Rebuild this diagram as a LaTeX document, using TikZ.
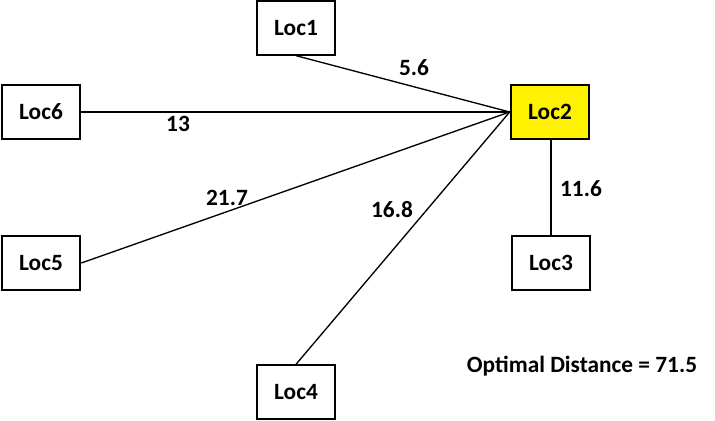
\documentclass[tikz,border=0pt]{standalone}
\usepackage{fontspec}
\setmainfont{Carlito}
\begin{document}
\begin{tikzpicture}[x=0.75pt,y=-0.75pt,
    locbox/.style={draw,line width=1.5pt,minimum width=59pt,minimum height=40pt,
      inner sep=0pt,font=\fontsize{17.5}{20}\selectfont\bfseries},
    dist/.style={font=\fontsize{17.5}{20}\selectfont\bfseries},
    link/.style={line width=1pt}]
  \useasboundingbox (0,0) rectangle (715,421);
  % locations
  \node[locbox] (loc1) at (296,28) {Loc1};
  \node[locbox,fill=yellow] (loc2) at (550,112) {Loc2};
  \node[locbox] (loc3) at (551,263) {Loc3};
  \node[locbox] (loc4) at (296,392) {Loc4};
  \node[locbox] (loc5) at (41,263) {Loc5};
  \node[locbox] (loc6) at (41,112) {Loc6};
  % links to Loc2
  \draw[link] (loc1.south) -- (loc2.west);
  \draw[link] (loc6.east) -- (loc2.west);
  \draw[link] (loc5.east) -- (loc2.west);
  \draw[link] (loc4.north) -- (loc2.west);
  \draw[link] (loc2.south -| loc3.north) -- (loc3.north);
  % distances
  \node[dist] (d1) at (414,68) {5.6};
  \node[dist] (d6) at (178,124) {13};
  \node[dist] (d5) at (227,198) {21.7};
  \node[dist] (d4) at (392,210) {16.8};
  \node[dist] (d3) at (581,189) {11.6};
  \node[dist] (total) at (582,366) {Optimal Distance = 71.5};
\end{tikzpicture}
\end{document}
